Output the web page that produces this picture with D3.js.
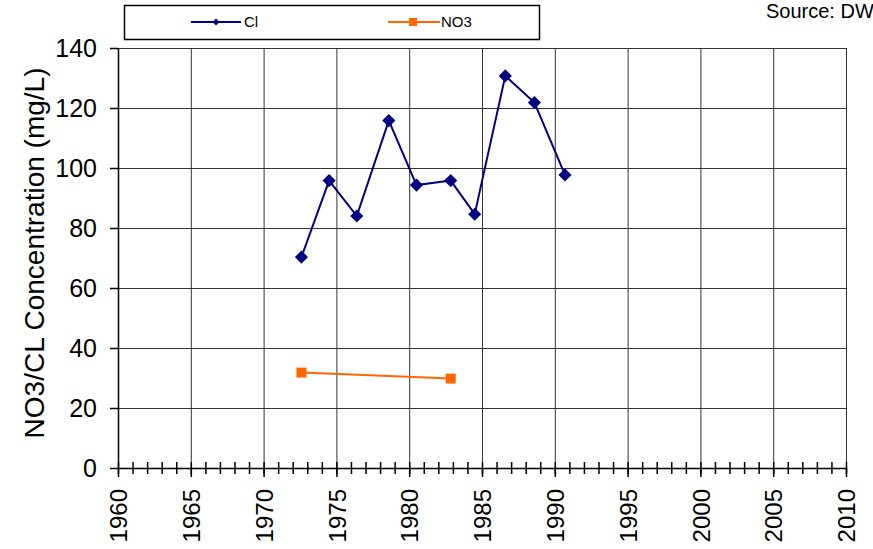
<!DOCTYPE html>
<meta charset="utf-8">
<head>
<style>
body { margin: 0; background: #fff; }
svg { font-family: Arial, "Liberation Sans", sans-serif; display: block; }
.grid line { stroke: #333; stroke-width: 1px; }
.grid .domain { display: none; }
.axis path, .axis line { stroke: #000; stroke-width: 1.5px; }
.axis text { font-size: 24px; fill: #000; }
.yaxis text { font-size: 25px; }
</style>
</head>
<body>
<script src="https://d3js.org/d3.v7.min.js"></script>
<script>

// data
var clYears  = [1972.6, 1974.5, 1976.4, 1978.6, 1980.5, 1982.85, 1984.5, 1986.6, 1988.6, 1990.7];
var clValues = [70.3, 95.8, 84, 115.8, 94.3, 95.8, 84.6, 130.7, 121.8, 97.7];
var no3Years  = [1972.6, 1982.85];
var no3Values = [31.8, 29.8];
var yTicks = [0, 20, 40, 60, 80, 100, 120, 140];
var xTicks = [1960, 1965, 1970, 1975, 1980, 1985, 1990, 1995, 2000, 2005, 2010];

var W = 873, H = 549;
var margin = {top: 48, right: 27, bottom: 81, left: 118},
    width = W - margin.left - margin.right,
    height = H - margin.top - margin.bottom;

var x = d3.scaleLinear().domain([1960, 2010]).range([0, width]);
var y = d3.scaleLinear().domain([0, 140]).range([height, 0]);

var svg = d3.select("body").append("svg")
    .attr("width", W)
    .attr("height", H);

var g = svg.append("g")
    .attr("transform", "translate(" + margin.left + "," + margin.top + ")");

// gridlines
g.append("g")
    .attr("class", "grid")
    .attr("transform", "translate(0," + height + ")")
    .call(d3.axisBottom(x).tickValues(xTicks).tickSize(-height).tickFormat(""));

g.append("g")
    .attr("class", "grid")
    .call(d3.axisLeft(y).tickValues(yTicks).tickSize(-width).tickFormat(""));

// y axis
g.append("g")
    .attr("class", "axis yaxis")
    .call(d3.axisLeft(y).tickValues(yTicks).tickSize(8).tickSizeOuter(0).tickPadding(13));

// x axis: minor ticks every year crossing the line, major ticks every 5
var xAxis = g.append("g")
    .attr("class", "axis")
    .attr("transform", "translate(0," + height + ")");

xAxis.call(d3.axisBottom(x).tickValues(d3.range(1960, 2011)).tickSize(6).tickSizeOuter(0).tickFormat(""));
xAxis.selectAll(".tick line").attr("y1", -6);

var xMajor = g.append("g")
    .attr("class", "axis")
    .attr("transform", "translate(0," + height + ")")
    .call(d3.axisBottom(x).tickValues(xTicks).tickSize(9).tickSizeOuter(0).tickFormat(d3.format("d")));
xMajor.select(".domain").remove();
xMajor.selectAll("text")
    .attr("transform", "rotate(-90)")
    .attr("text-anchor", "end")
    .attr("x", -21)
    .attr("y", 0)
    .attr("dy", "0.36em");

// y label
svg.append("text")
    .attr("transform", "translate(44,253) rotate(-90)")
    .attr("text-anchor", "middle")
    .style("font-size", "28px")
    .text("NO3/CL Concentration (mg/L)");

// series
var line = d3.line().x(function(d) { return x(d[0]); }).y(function(d) { return y(d[1]); });

var clData = d3.zip(clYears, clValues);
var no3Data = d3.zip(no3Years, no3Values);

g.append("path")
    .datum(clData)
    .attr("fill", "none")
    .attr("stroke", "#000080")
    .attr("stroke-width", 2)
    .attr("d", line);

g.selectAll(".cl")
    .data(clData)
  .enter().append("path")
    .attr("class", "cl")
    .attr("transform", function(d) { return "translate(" + x(d[0]) + "," + y(d[1]) + ")"; })
    .attr("d", d3.symbol(d3.symbolDiamond2, 110))
    .attr("fill", "#000080");

g.append("path")
    .datum(no3Data)
    .attr("fill", "none")
    .attr("stroke", "#FF6600")
    .attr("stroke-width", 2)
    .attr("d", line);

g.selectAll(".no3")
    .data(no3Data)
  .enter().append("rect")
    .attr("class", "no3")
    .attr("x", function(d) { return x(d[0]) - 5; })
    .attr("y", function(d) { return y(d[1]) - 5; })
    .attr("width", 10)
    .attr("height", 10)
    .attr("fill", "#FF6600");

// legend
var legend = svg.append("g");
legend.append("rect")
    .attr("x", 124.5).attr("y", 5.5)
    .attr("width", 415).attr("height", 34)
    .attr("fill", "#fff")
    .attr("stroke", "#000")
    .attr("stroke-width", 1.5);

var lg1 = legend.append("g").attr("transform", "translate(191,22)");
lg1.append("line").attr("x1", 0).attr("x2", 50).attr("stroke", "#000080").attr("stroke-width", 2);
lg1.append("path").attr("transform", "translate(25,0)").attr("d", d3.symbol(d3.symbolDiamond2, 30)).attr("fill", "#000080");
lg1.append("text").attr("x", 53).attr("dy", "0.35em").style("font-size", "15px").text("Cl");

var lg2 = legend.append("g").attr("transform", "translate(388,22)");
lg2.append("line").attr("x1", 0).attr("x2", 52).attr("stroke", "#FF6600").attr("stroke-width", 2);
lg2.append("rect").attr("x", 21).attr("y", -4).attr("width", 8).attr("height", 8).attr("fill", "#FF6600");
lg2.append("text").attr("x", 53).attr("dy", "0.35em").style("font-size", "15px").text("NO3");

svg.append("text")
    .attr("x", 766)
    .attr("y", 18)
    .style("font-size", "20px")
    .text("Source: DW");

</script>
</body>
